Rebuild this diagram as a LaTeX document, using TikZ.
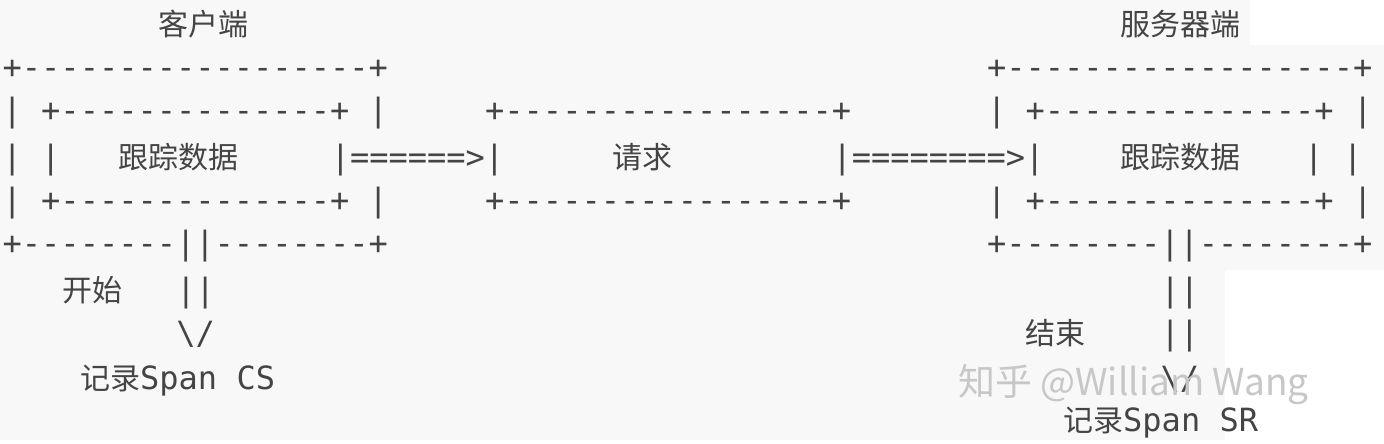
\documentclass[tikz,border=0pt]{standalone}
\usepackage{fontspec}
\setmonofont{DejaVu Sans Mono}
\newfontfamily\cjk{Noto Sans CJK SC}
\definecolor{ink}{HTML}{444444}
\definecolor{bg}{HTML}{F8F8F8}
\newcommand{\mo}{\fontsize{32}{32}\selectfont\ttfamily}
\newcommand{\ck}{\fontsize{30}{30}\selectfont\cjk}
\tikzset{t/.style={anchor=base west,inner sep=0pt,text=ink,font=\mo}}
\newcommand{\cx}[1]{2.5+19.3*#1}
\begin{document}
\begin{tikzpicture}[x=1pt,y=-1pt]
\fill[bg] (0,0) rectangle (1384,444);
\fill[white] (1250,0) rectangle (1384,45);
\fill[white] (1225,270) rectangle (1384,444);
\fill[white] (0,440) rectangle (1384,444);
\def\ra{36}\def\rb{78}\def\rc{121}\def\rd{168}\def\re{211}\def\rf{254}\def\rg{301}\def\rh{344}\def\ri{389}\def\rj{431}
\node[t,font=\ck] (c0) at (158,\ra) {客户端};
\node[t,font=\ck] (s0) at (1120,\ra) {服务器端};
% left box
\node[t] (l1) at ({\cx{0}},\rb) {+------------------+};
\node[t] (l2) at ({\cx{0}},\rc) {| +--------------+ |};
\node[t] (l3) at ({\cx{0}},\rd) {| |};
\node[t,font=\ck] (l3t) at (118,\rd) {跟踪数据};
\node[t] (l3r) at ({\cx{17}},\rd) {|======>|};
\node[t] (l4) at ({\cx{0}},\re) {| +--------------+ |};
\node[t] (l5) at ({\cx{0}},\rf) {+--------||--------+};
\node[t,font=\ck] (l6t) at (62,\rg) {开始};
\node[t] (l6) at ({\cx{9}},\rg) {||};
\node[t] (l7) at ({\cx{9}},\rh) {\textbackslash/};
\node[t] (l8) at (80,\ri) {{\ck 记录}Span  CS};
% middle box
\node[t] (m2) at ({\cx{25}},\rc) {+-----------------+};
\node[t,font=\ck] (m3t) at (612,\rd) {请求};
\node[t] (m3) at ({\cx{43}},\rd) {|========>|};
\node[t] (m4) at ({\cx{25}},\re) {+-----------------+};
% right box
\node[t] (r1) at ({\cx{51}},\rb) {+------------------+};
\node[t] (r2) at ({\cx{51}},\rc) {| +--------------+ |};
\node[t,font=\ck] (r3t) at (1120,\rd) {跟踪数据};
\node[t] (r3a) at (1304,\rd) {|};
\node[t] (r3b) at (1343,\rd) {|};
\node[t] (r4) at ({\cx{51}},\re) {| +--------------+ |};
\node[t] (r5) at ({\cx{51}},\rf) {+--------||--------+};
\node[t] (r6) at ({\cx{60}},\rg) {||};
\node[t,font=\ck] (r7t) at (1025,\rh) {结束};
\node[t] (r7) at ({\cx{60}},\rh) {||};
\node[t] (r8) at ({\cx{60}},\ri) {\textbackslash/};
\node[t] (r9) at (1063,\rj) {{\ck 记录}Span  SR};
% watermark
\node[anchor=base west,inner sep=0pt,text=black!22,font=\fontsize{37}{37}\selectfont\cjk] (wm) at (958,395) {知乎 @William Wang};
\end{tikzpicture}
\end{document}
